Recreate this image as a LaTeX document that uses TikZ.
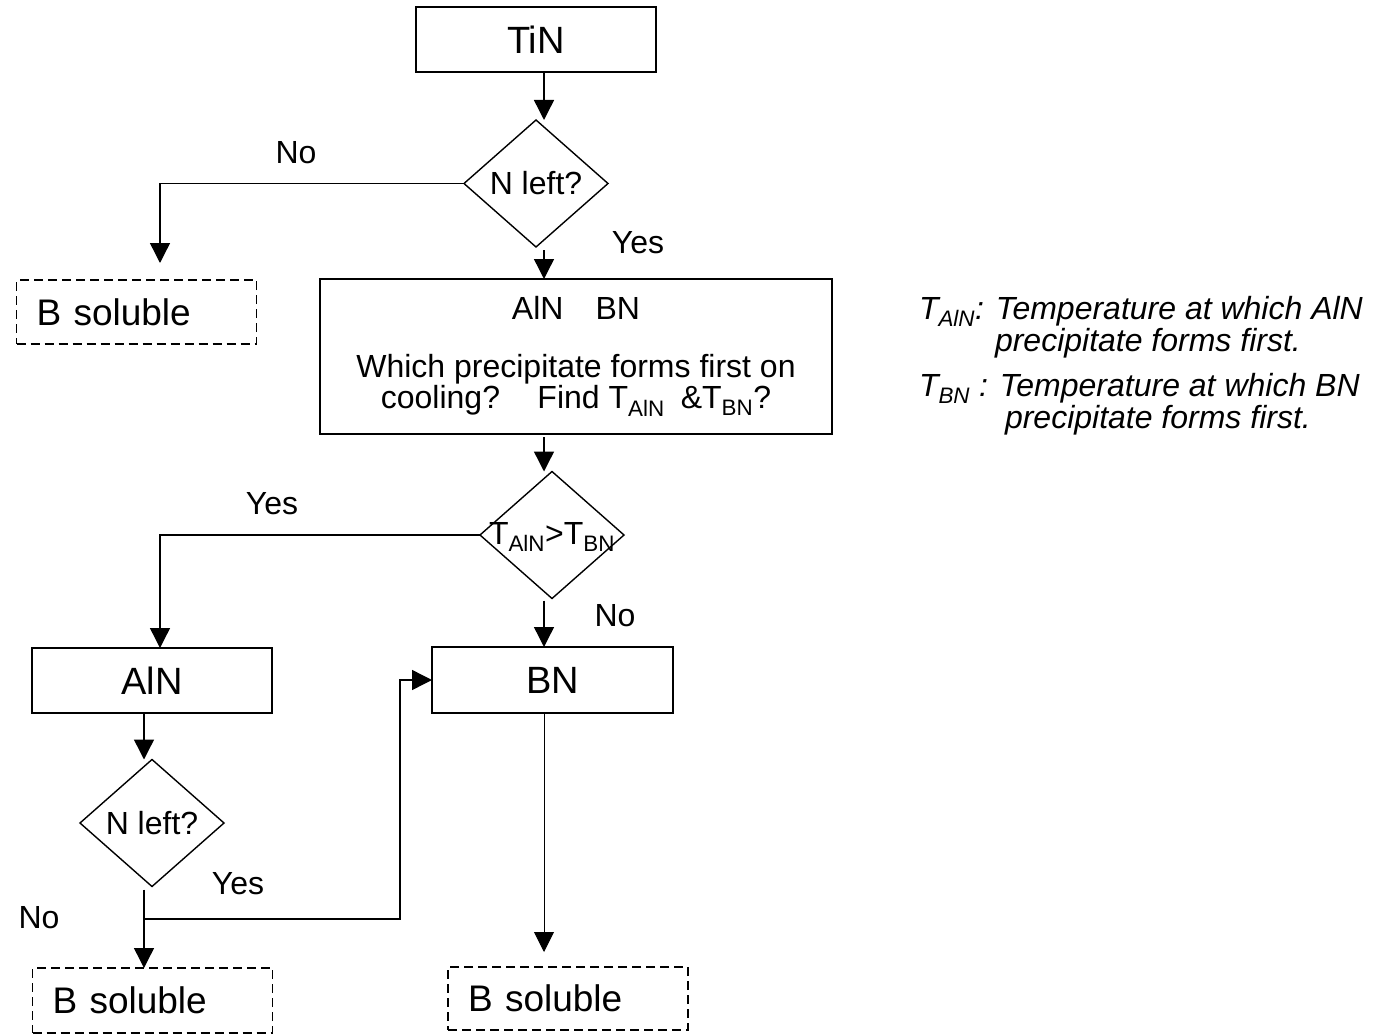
\documentclass[tikz,border=0pt]{standalone}
\usepackage{fontspec}
\setmainfont{Liberation Sans}
\usetikzlibrary{shapes.geometric,arrows.meta}
\begin{document}
\begin{tikzpicture}[x=1pt,y=-1pt,
  every node/.style={inner sep=0pt,outer sep=0pt},
  boxnode/.style={draw,line width=1.4pt,rectangle,font=\fontsize{38}{40}\selectfont},
  solbox/.style={draw,line width=1.4pt,dash pattern=on 9pt off 5pt,rectangle,
     text width=200pt,inner xsep=20pt,align=left,font=\fontsize{37}{40}\selectfont},
  decide/.style={draw,line width=1.4pt,diamond,minimum width=144pt,minimum height=127pt,
     font=\fontsize{32}{34}\selectfont},
  lbl/.style={font=\fontsize{32}{34}\selectfont},
  note/.style={anchor=base west,align=left,font=\fontsize{32}{28}\selectfont\itshape},
  arr/.style={line width=1.4pt,-{Triangle[length=20pt,width=20pt]}},
  thinarr/.style={line width=0.9pt,-{Triangle[length=20pt,width=20pt]}}
]
\path[use as bounding box] (0,0) rectangle (1373,1035);

% x positions of connectors
\coordinate (cx) at (544,0);
\coordinate (lx) at (160,0);
\coordinate (ax) at (144,0);
\coordinate (bx) at (400,0);

% boxes
\node[boxnode,minimum width=240pt,minimum height=65pt] (tin) at (536,39.5) {TiN};
\node[decide] (d1) at (536,183.5) {N left?};
\node[solbox,minimum height=64pt] (bs1) at (136.5,312) {B soluble};
\node[boxnode,minimum width=512pt,minimum height=155pt,align=center,
      font=\fontsize{32}{29}\selectfont] (big) at (576,356.5)
  {AlN\hspace{1em}BN\\[29pt]
   Which precipitate forms first on\\
   cooling?\hspace{0.8em} Find T\textsubscript{AlN}\hspace{0.5em}\&T\textsubscript{BN}?};
\node[decide] (d2) at (552,535) {};
\node[lbl] (d2t) at (552,537) {T\textsubscript{AlN}>T\textsubscript{BN}};
\node[boxnode,minimum width=240pt,minimum height=65pt] (aln) at (152,680.5) {AlN};
\node[boxnode,minimum width=241pt,minimum height=66pt] (bn) at (552.5,680) {BN};
\node[decide] (d3) at (152,823) {N left?};
\node[solbox,minimum height=65pt] (bs2) at (152.5,1000.5) {B soluble};
\node[solbox,minimum height=63pt] (bs3) at (568,998.5) {B soluble};

% labels
\node[lbl] (l1) at (296,153) {No};
\node[lbl] (l2) at (638,243) {Yes};
\node[lbl] (l3) at (272,504) {Yes};
\node[lbl] (l4) at (615,616) {No};
\node[lbl] (l5) at (238,884) {Yes};
\node[lbl] (l6) at (39,918) {No};

% notes
\node[note] (n1) at (919,351) {T\textsubscript{AlN}: Temperature at which AlN\\
  \hspace*{76pt}precipitate forms first.};
\node[note] (n3) at (919,428) {T\textsubscript{BN} : Temperature at which BN\\
  \hspace*{86pt}precipitate forms first.};

% connectors
\draw[arr] (tin.south -| cx) -- (cx |- d1.north);
\draw[arr,shorten >=17pt] (d1.west) -| (lx |- bs1.north);
\draw[arr,shorten <=3pt] (cx |- d1.south) -- (cx |- big.north);
\draw[arr,shorten <=3pt] (cx |- big.south) -- (cx |- d2.north);
\draw[arr] (d2.west) -| (lx |- aln.north);
\draw[arr,shorten <=2pt] (cx |- d2.south) -- (cx |- bn.north);
\draw[arr] (aln.south -| ax) -- (ax |- d3.north);
\coordinate (br) at (144,919);
\draw[arr,shorten <=3pt] (ax |- d3.south) -- (ax |- bs2.north);
\draw[arr] (br) -| (bx |- bn.west) -- (bn.west);
\draw[thinarr,shorten >=15pt] (bn.south -| cx) -- (cx |- bs3.north);
\end{tikzpicture}
\end{document}
